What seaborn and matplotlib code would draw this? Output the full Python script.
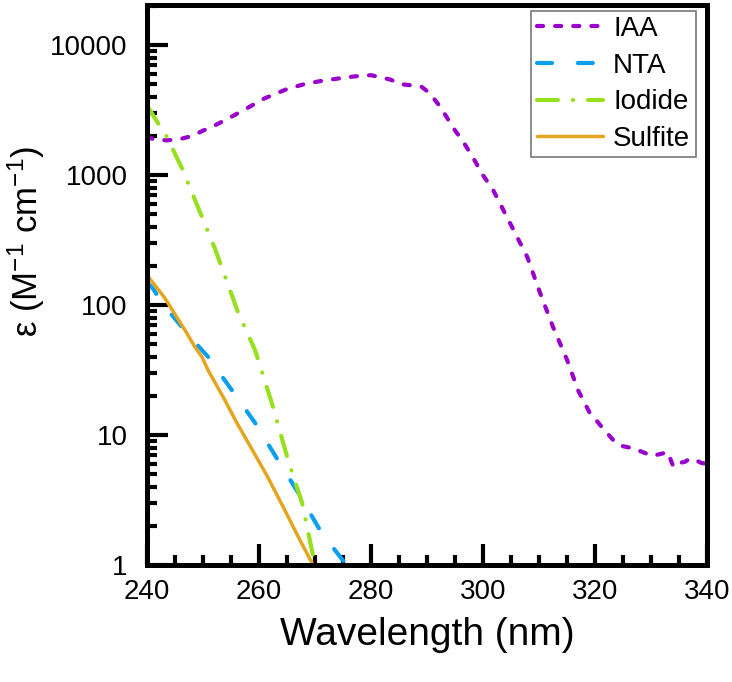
import matplotlib
matplotlib.use("Agg")
import matplotlib.pyplot as plt
import matplotlib.ticker as mticker
import seaborn as sns
import pandas as pd

# wavelength (nm) / molar absorptivity
iaa_wl = [240, 241, 243.5, 246, 248, 250, 252, 255, 258, 261, 265, 268, 271, 274.5,
          277, 280, 283.4, 285.5, 287.5, 289, 290.5, 292.5, 294.6, 296.5, 298.2, 300,
          301.8, 304.8, 307.9, 310.2, 312.5, 315, 317, 319, 321.4, 323.6, 325, 326.8,
          328.5, 330.2, 332, 333, 334, 335, 336, 337, 338, 339, 340]
iaa_eps = [2000, 1900, 1850, 1900, 2000, 2200, 2400, 2800, 3300, 3900, 4600, 5000, 5300, 5570,
           5750, 5880, 5450, 5000, 4900, 4800, 4270, 3300, 2340, 1800, 1370, 1000,
           770, 430, 235, 124, 68, 38, 22, 15, 11.3, 8.8, 8.2, 7.9,
           7.4, 6.9, 7.2, 7.4, 5.7, 6.1, 6.2, 6.6, 6.4, 6.1, 6.0]

nta_wl = [240, 241, 243, 245.5, 248, 250.9, 255.2, 259.3, 263.4, 267, 271.2, 275.4, 276]
nta_eps = [150, 135, 100, 74, 55, 40, 22, 12.4, 6.4, 3.6, 1.76, 1.03, 0.9]

iodide_wl = [240, 240.2, 242, 243.6, 246.4, 248.6, 252.1, 256.3, 259.3, 262.3, 265.2,
             267.7, 270, 270.3]
iodide_eps = [3400, 3330, 2500, 1960, 1090, 640, 275, 87, 45, 17.6, 6.4, 3.0, 1.0, 0.9]

sulfite_wl = [240, 241, 243.2, 245, 246.8, 248.5, 249.8, 251, 253.9, 256, 258.8, 261.5,
              264.6, 267, 269.5, 270]
sulfite_eps = [170, 150, 113, 85, 64, 48, 40, 31, 18.6, 12.5, 7.7, 4.8, 2.65, 1.65, 1.03, 0.93]

ytick_vals = [1, 10, 100, 1000, 10000]
ytick_labels = ["1", "10", "100", "1000", "10000"]
xtick_vals = [240, 260, 280, 300, 320, 340]

sns.set_style("ticks", {"axes.edgecolor": "black", "text.color": "black",
                        "axes.labelcolor": "black", "xtick.color": "black",
                        "ytick.color": "black"})
plt.rcParams["font.family"] = ["Liberation Sans", "DejaVu Sans"]
plt.rcParams["mathtext.default"] = "regular"

fig = plt.figure(figsize=(7.32, 6.82), dpi=100)
ax = fig.add_axes([0.2008, 0.1716, 0.7650, 0.8211])

series = [
    ("IAA", iaa_wl, iaa_eps, "#9900CC", 3.0, (0, (1.45, 2.9))),
    ("NTA", nta_wl, nta_eps, "#0AA0EE", 3.0, (0, (3.6, 6.2))),
    ("Iodide", iodide_wl, iodide_eps, "#96E01E", 3.0, (0, (5.0, 3.6, 0.05, 3.6))),
    ("Sulfite", sulfite_wl, sulfite_eps, "#E6A520", 2.5, "-"),
]
for name, wl, eps, color, lw, ls in series:
    df = pd.DataFrame({"wavelength": wl, "eps": eps})
    sns.lineplot(data=df, x="wavelength", y="eps", ax=ax, color=color, linewidth=lw,
                 linestyle=ls, label=name, solid_capstyle="round", dash_capstyle="round")

ax.set_yscale("log")
ax.set_xlim(240, 340)
ax.set_ylim(1, 20400)

ax.xaxis.set_major_locator(mticker.FixedLocator(xtick_vals))
ax.xaxis.set_minor_locator(mticker.MultipleLocator(5))
ax.yaxis.set_major_locator(mticker.FixedLocator(ytick_vals))
ax.yaxis.set_major_formatter(mticker.FixedFormatter(ytick_labels))
ax.yaxis.set_minor_locator(mticker.LogLocator(base=10, subs=range(2, 10)))
ax.yaxis.set_minor_formatter(mticker.NullFormatter())

ax.tick_params(axis="both", which="both", direction="in", bottom=True, left=True,
               top=False, right=False, width=3, color="black", labelcolor="black")
ax.tick_params(axis="both", which="major", length=15, labelsize=20)
ax.tick_params(axis="both", which="minor", length=7.5)
ax.tick_params(axis="y", which="both", pad=14)
ax.tick_params(axis="x", which="both", pad=10)

for sp in ax.spines.values():
    sp.set_visible(True)
    sp.set_linewidth(3.6)
    sp.set_color("black")

ax.set_xlabel("Wavelength (nm)", fontsize=28, labelpad=9)
ax.set_ylabel(r"ε (M$^{-1}$ cm$^{-1}$)", fontsize=25)
ax.yaxis.set_label_coords(-0.178, 0.577)

leg = ax.legend(loc="upper right", bbox_to_anchor=(0.98, 0.99), fontsize=20,
                frameon=True, fancybox=False, handlelength=2.4, handletextpad=0.35,
                labelspacing=0.38, borderpad=0.2, borderaxespad=0.0)
leg.get_frame().set_edgecolor("#555555")
leg.get_frame().set_linewidth(1.2)

fig.savefig("out.png", dpi=100)
